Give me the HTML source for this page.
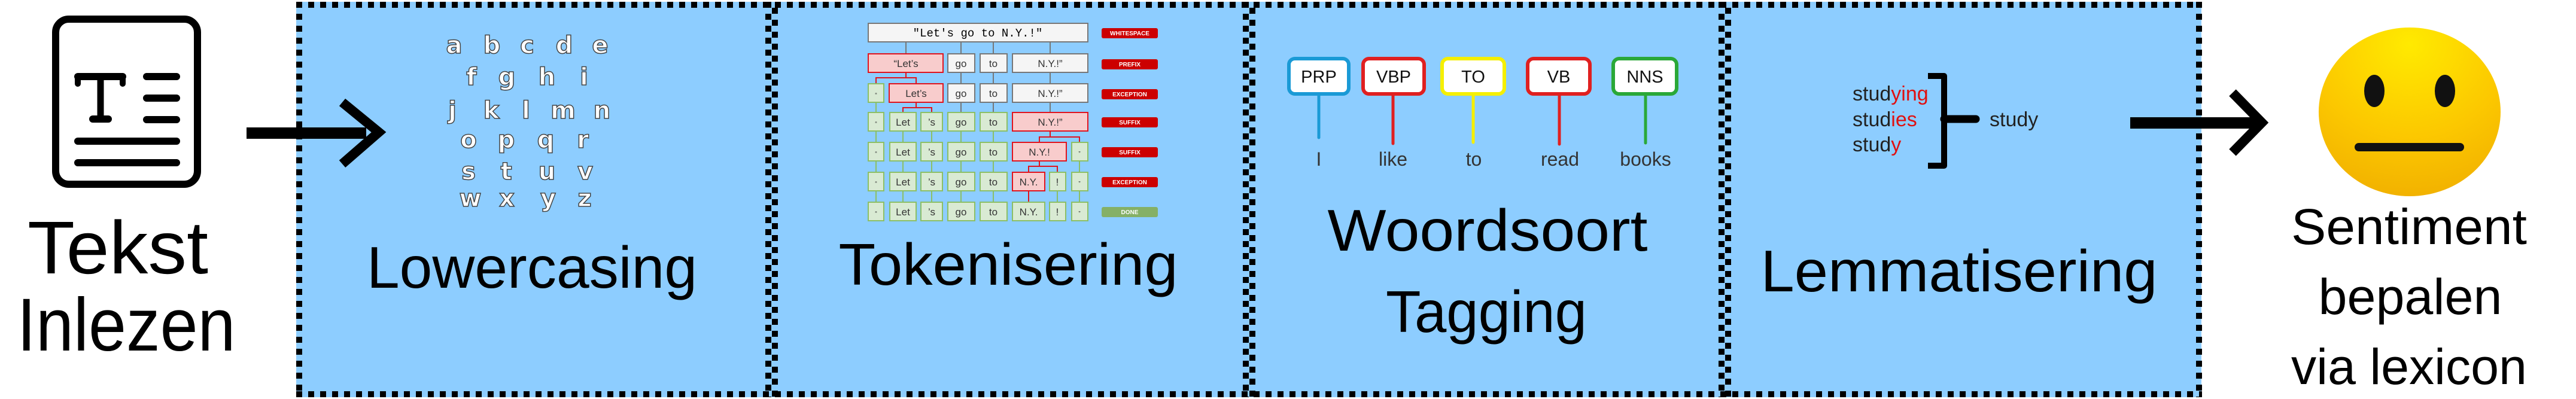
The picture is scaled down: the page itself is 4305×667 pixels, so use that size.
<!DOCTYPE html>
<html><head><meta charset="utf-8"><style>html,body{margin:0;padding:0;background:#fff}svg{display:block}</style></head>
<body>
<svg width="4305" height="667" viewBox="0 0 4305 667" xmlns="http://www.w3.org/2000/svg" font-family="Liberation Sans, sans-serif">
<defs>
<radialGradient id="em" cx="0.5" cy="0.1" r="0.9">
<stop offset="0" stop-color="#FFEA00"/><stop offset="0.6" stop-color="#FCC800"/><stop offset="1" stop-color="#F2B200"/>
</radialGradient>
</defs>
<rect x="495" y="3" width="3184" height="661" fill="#8DCDFF"/>
<g stroke="#000" stroke-width="10" fill="none" stroke-dasharray="10 10">
<line x1="495" y1="8" x2="3680" y2="8"/>
<line x1="495" y1="659" x2="3680" y2="659"/>
<line x1="500" y1="3" x2="500" y2="664"/>
<line x1="3675" y1="3" x2="3675" y2="664"/>
<line x1="1284" y1="3" x2="1284" y2="664"/>
<line x1="1295" y1="13" x2="1295" y2="664"/>
<line x1="2082" y1="3" x2="2082" y2="664"/>
<line x1="2093" y1="13" x2="2093" y2="664"/>
<line x1="2877" y1="3" x2="2877" y2="664"/>
<line x1="2888" y1="13" x2="2888" y2="664"/>
</g>

<!-- document icon -->
<rect x="93" y="32" width="237" height="276" rx="22" fill="none" stroke="#000" stroke-width="12"/>
<g stroke="#000" stroke-linecap="round" fill="none">
<path d="M130 128 H205" stroke-width="12"/>
<path d="M130 128 V140 M205 128 V140" stroke-width="10"/>
<path d="M168 128 V198" stroke-width="11"/>
<path d="M155 199 H181" stroke-width="12"/>
<path d="M245 128 H295 M245 164 H295 M245 200 H295" stroke-width="12"/>
<path d="M130 236 H295 M130 272 H295" stroke-width="12"/>
</g>
<text x="197" y="457" font-size="125" text-anchor="middle" textLength="302" lengthAdjust="spacingAndGlyphs">Tekst</text>
<text x="211" y="586" font-size="125" text-anchor="middle" textLength="365" lengthAdjust="spacingAndGlyphs">Inlezen</text>

<!-- arrow 1 -->
<rect x="412" y="213" width="200" height="19" fill="#000"/>
<path d="M572 171 L633 221 L572 274" stroke="#000" stroke-width="16" fill="none"/>

<!-- alphabet -->
<g font-size="40" font-weight="bold" fill="#fff" stroke="#444" stroke-width="1.5" text-anchor="middle" font-family="DejaVu Sans, sans-serif">
<text x="759" y="89">a</text><text x="822" y="89">b</text><text x="881" y="89">c</text><text x="943" y="89">d</text><text x="1003" y="89">e</text>
<text x="788" y="142">f</text><text x="847" y="142">g</text><text x="914" y="142">h</text><text x="976" y="142">i</text>
<text x="756" y="198">j</text><text x="821" y="198">k</text><text x="879" y="198">l</text><text x="941" y="198">m</text><text x="1006" y="198">n</text>
<text x="783" y="247">o</text><text x="846" y="247">p</text><text x="912" y="247">q</text><text x="974" y="247">r</text>
<text x="783" y="300">s</text><text x="846" y="300">t</text><text x="914" y="300">u</text><text x="978" y="300">v</text>
<text x="786" y="345">w</text><text x="847" y="345">x</text><text x="916" y="345">y</text><text x="977" y="345">z</text>
</g>
<text x="889" y="481" font-size="98" text-anchor="middle" textLength="552" lengthAdjust="spacingAndGlyphs">Lowercasing</text>

<!-- tokenisation -->
<g stroke-width="2">
<g stroke="#777"><path d="M1514 70V90 M1606 70V90 M1660 70V90 M1755 70V90 M1606 121V140 M1660 121V140 M1755 121V140 M1606 171V188 M1660 171V188 M1755 171V188"/></g>
<g stroke="#8bbf66"><path d="M1464 171V188 M1464 219V238 M1509 219V238 M1557 219V238 M1606 219V238 M1660 219V238 M1464 269V288 M1509 269V288 M1557 269V288 M1606 269V288 M1660 269V288 M1804 269V288 M1464 319V338 M1509 319V338 M1557 319V338 M1606 319V338 M1660 319V338 M1767 319V338 M1804 319V338"/></g>
<g stroke="#e0141e" fill="none"><path d="M1514 121V130 M1464 140V130H1531V140 M1531 171V180 M1509 188V180H1557V188 M1755 219V229 M1737 238V229H1804V238 M1737 269V278 M1719 288V278H1767V288 M1719 319V338"/></g>
<rect x="1451" y="39" width="367" height="31" fill="#f5f5f5" stroke="#777"/>
</g>
<text x="1634" y="61" font-family="Liberation Mono, monospace" font-size="19" text-anchor="middle">"Let's go to N.Y.!"</text>
<g stroke-width="2" font-size="17" text-anchor="middle">
<g fill="#f8cccc" stroke="#e0141e">
<rect x="1451" y="90" width="125" height="31"/><rect x="1486" y="140" width="90" height="31"/><rect x="1692" y="188" width="126" height="31"/><rect x="1692" y="238" width="90" height="31"/><rect x="1692" y="288" width="54" height="31"/>
</g>
<g fill="#f5f5f5" stroke="#777">
<rect x="1584" y="90" width="45" height="31"/><rect x="1638" y="90" width="45" height="31"/><rect x="1692" y="90" width="126" height="31"/>
<rect x="1584" y="140" width="45" height="31"/><rect x="1638" y="140" width="45" height="31"/><rect x="1692" y="140" width="126" height="31"/>
</g>
<g fill="#d9ead3" stroke="#8bbf66">
<rect x="1451" y="140" width="26" height="31"/>
<rect x="1451" y="188" width="26" height="31"/><rect x="1487" y="188" width="44" height="31"/><rect x="1539" y="188" width="36" height="31"/><rect x="1584" y="188" width="45" height="31"/><rect x="1638" y="188" width="45" height="31"/>
<rect x="1451" y="238" width="26" height="31"/><rect x="1487" y="238" width="44" height="31"/><rect x="1539" y="238" width="36" height="31"/><rect x="1584" y="238" width="45" height="31"/><rect x="1638" y="238" width="45" height="31"/><rect x="1791" y="238" width="27" height="31"/>
<rect x="1451" y="288" width="26" height="31"/><rect x="1487" y="288" width="44" height="31"/><rect x="1539" y="288" width="36" height="31"/><rect x="1584" y="288" width="45" height="31"/><rect x="1638" y="288" width="45" height="31"/><rect x="1754" y="288" width="27" height="31"/><rect x="1791" y="288" width="27" height="31"/>
<rect x="1451" y="338" width="26" height="31"/><rect x="1487" y="338" width="44" height="31"/><rect x="1539" y="338" width="36" height="31"/><rect x="1584" y="338" width="45" height="31"/><rect x="1638" y="338" width="45" height="31"/><rect x="1692" y="338" width="54" height="31"/><rect x="1754" y="338" width="27" height="31"/><rect x="1791" y="338" width="27" height="31"/>
</g>
<g fill="#333">
<text x="1514" y="112">“Let’s</text><text x="1606" y="112">go</text><text x="1660" y="112">to</text><text x="1755" y="112">N.Y.!”</text>
<text x="1464" y="162" font-size="10">“</text><text x="1531" y="162">Let’s</text><text x="1606" y="162">go</text><text x="1660" y="162">to</text><text x="1755" y="162">N.Y.!”</text>
<text x="1464" y="210" font-size="10">“</text><text x="1509" y="210">Let</text><text x="1557" y="210">’s</text><text x="1606" y="210">go</text><text x="1660" y="210">to</text><text x="1755" y="210">N.Y.!”</text>
<text x="1464" y="260" font-size="10">“</text><text x="1509" y="260">Let</text><text x="1557" y="260">’s</text><text x="1606" y="260">go</text><text x="1660" y="260">to</text><text x="1737" y="260">N.Y.!</text><text x="1804" y="260" font-size="10">”</text>
<text x="1464" y="310" font-size="10">“</text><text x="1509" y="310">Let</text><text x="1557" y="310">’s</text><text x="1606" y="310">go</text><text x="1660" y="310">to</text><text x="1719" y="310">N.Y.</text><text x="1767" y="310">!</text><text x="1804" y="310" font-size="10">”</text>
<text x="1464" y="360" font-size="10">“</text><text x="1509" y="360">Let</text><text x="1557" y="360">’s</text><text x="1606" y="360">go</text><text x="1660" y="360">to</text><text x="1719" y="360">N.Y.</text><text x="1767" y="360">!</text><text x="1804" y="360" font-size="10">”</text>
</g>
</g>
<g fill="#cc0000">
<rect x="1841" y="47" width="94" height="17" rx="3"/><rect x="1841" y="99" width="94" height="17" rx="3"/><rect x="1841" y="149" width="94" height="17" rx="3"/><rect x="1841" y="196" width="94" height="17" rx="3"/><rect x="1841" y="246" width="94" height="17" rx="3"/><rect x="1841" y="296" width="94" height="17" rx="3"/>
<rect x="1841" y="346" width="94" height="17" rx="3" fill="#85b066"/>
</g>
<g fill="#fff" font-size="10" font-weight="bold" text-anchor="middle">
<text x="1888" y="59">WHITESPACE</text><text x="1888" y="111">PREFIX</text><text x="1888" y="161">EXCEPTION</text><text x="1888" y="208">SUFFIX</text><text x="1888" y="258">SUFFIX</text><text x="1888" y="308">EXCEPTION</text><text x="1888" y="358">DONE</text>
</g>
<text x="1685" y="476" font-size="98" text-anchor="middle" textLength="567" lengthAdjust="spacingAndGlyphs">Tokenisering</text>

<!-- POS tagging -->
<g stroke-width="6" fill="#fff">
<rect x="2154" y="98" width="100" height="59" rx="10" stroke="#1a9ad6"/>
<rect x="2278" y="98" width="102" height="59" rx="10" stroke="#e02020"/>
<rect x="2410" y="98" width="104" height="59" rx="10" stroke="#f5ef00"/>
<rect x="2553" y="98" width="104" height="59" rx="10" stroke="#e02020"/>
<rect x="2696" y="98" width="106" height="59" rx="10" stroke="#2aa838"/>
</g>
<g stroke-width="5" stroke-linecap="round">
<line x1="2204" y1="160" x2="2204" y2="230" stroke="#1a9ad6"/>
<line x1="2328" y1="160" x2="2328" y2="240" stroke="#e02020"/>
<line x1="2462" y1="160" x2="2462" y2="238" stroke="#f5ef00"/>
<line x1="2606" y1="160" x2="2606" y2="241" stroke="#e02020"/>
<line x1="2750" y1="160" x2="2750" y2="239" stroke="#2aa838"/>
</g>
<g font-size="29" text-anchor="middle" fill="#111">
<text x="2204" y="138">PRP</text><text x="2329" y="138">VBP</text><text x="2462" y="138">TO</text><text x="2605" y="138">VB</text><text x="2749" y="138">NNS</text>
</g>
<g font-size="32" text-anchor="middle" fill="#333">
<text x="2204" y="277">I</text><text x="2328" y="277">like</text><text x="2463" y="277">to</text><text x="2607" y="277">read</text><text x="2750" y="277">books</text>
</g>
<text x="2486" y="419" font-size="98" text-anchor="middle" textLength="535" lengthAdjust="spacingAndGlyphs">Woordsoort</text>
<text x="2484" y="555" font-size="98" text-anchor="middle" textLength="336" lengthAdjust="spacingAndGlyphs">Tagging</text>

<!-- lemmatisation -->
<g font-size="34" fill="#222">
<text x="3096" y="168">stud<tspan fill="#e01010">ying</tspan></text>
<text x="3096" y="211">stud<tspan fill="#e01010">ies</tspan></text>
<text x="3096" y="253">stud<tspan fill="#e01010">y</tspan></text>
<text x="3325" y="211">study</text>
</g>
<path d="M3222 127 H3249 V277 H3222" stroke="#000" stroke-width="10" fill="none" stroke-linejoin="round"/>
<line x1="3249" y1="199" x2="3302" y2="199" stroke="#000" stroke-width="13" stroke-linecap="round"/>
<text x="3274" y="487" font-size="98" text-anchor="middle" textLength="663" lengthAdjust="spacingAndGlyphs">Lemmatisering</text>

<!-- arrow 2 -->
<rect x="3560" y="196" width="215" height="19" fill="#000"/>
<path d="M3731 155 L3780 205 L3731 255" stroke="#000" stroke-width="16" fill="none"/>

<!-- emoji -->
<ellipse cx="4027" cy="187" rx="152" ry="141" fill="url(#em)"/>
<ellipse cx="3968" cy="152" rx="17" ry="27" fill="#111"/>
<ellipse cx="4086" cy="152" rx="17" ry="27" fill="#111"/>
<line x1="3942" y1="246" x2="4111" y2="246" stroke="#111" stroke-width="14" stroke-linecap="round"/>
<text x="4026" y="408" font-size="84" text-anchor="middle" textLength="394" lengthAdjust="spacingAndGlyphs">Sentiment</text>
<text x="4028" y="525" font-size="84" text-anchor="middle" textLength="307" lengthAdjust="spacingAndGlyphs">bepalen</text>
<text x="4026" y="642" font-size="84" text-anchor="middle" textLength="394" lengthAdjust="spacingAndGlyphs">via lexicon</text>
</svg>
</body></html>
